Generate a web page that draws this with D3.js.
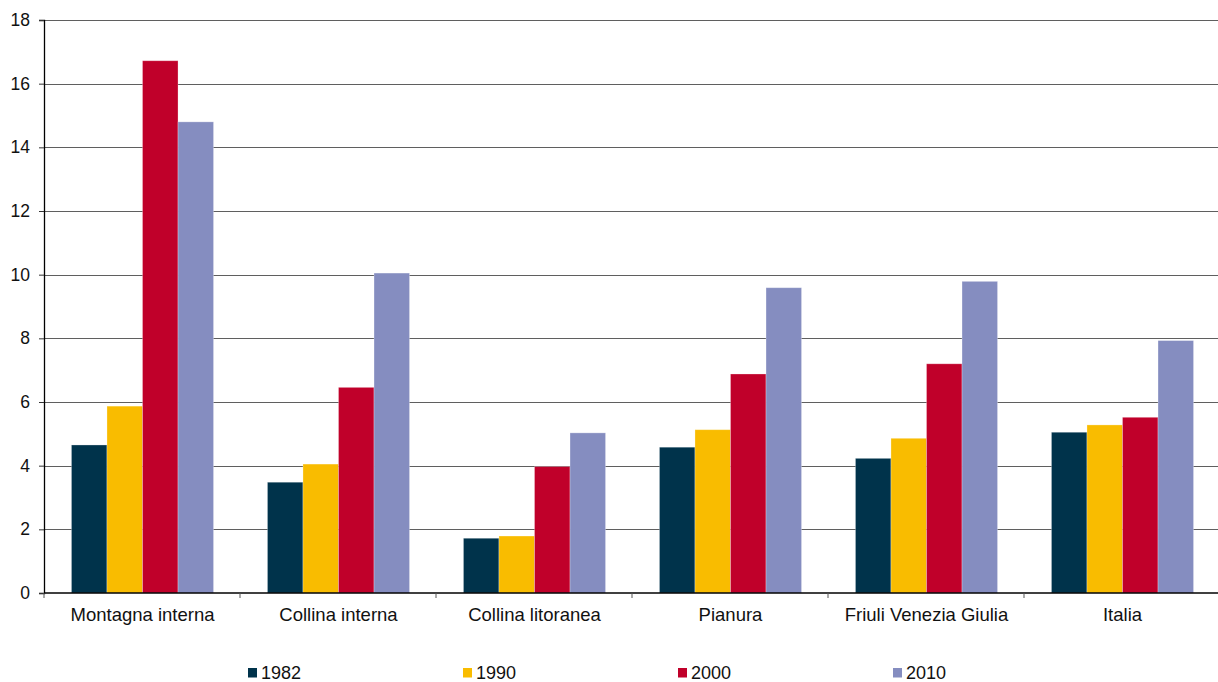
<!DOCTYPE html>
<html>
<head>
<meta charset="utf-8">
<script src="https://cdn.jsdelivr.net/npm/d3@7"></script>
<style>
	body { margin: 0; background: #fff; }
	svg { display: block; font-family: "Liberation Sans", Arial, sans-serif; }
	.grid line { stroke: #5f5f5f; stroke-width: 1; }
	.axis text { fill: #111; }
</style>
</head>
<body>
<div id="chart"></div>
<script>
// Data
const categories = ["Montagna interna", "Collina interna", "Collina litoranea", "Pianura", "Friuli Venezia Giulia", "Italia"];
const years = ["1982", "1990", "2000", "2010"];
const values1982 = [4.65, 3.48, 1.72, 4.58, 4.23, 5.05];
const values1990 = [5.87, 4.05, 1.79, 5.13, 4.86, 5.28];
const values2000 = [16.72, 6.46, 3.97, 6.88, 7.20, 5.52];
const values2010 = [14.80, 10.05, 5.03, 9.59, 9.79, 7.93];
const yTicks = [0, 2, 4, 6, 8, 10, 12, 14, 16, 18];
const colors = ["#00334b", "#f9bc00", "#c0002a", "#858dc0"];

const seriesValues = [values1982, values1990, values2000, values2010];

// Size
const width = 1218, height = 682;
const margin = { top: 20, right: -2, bottom: 89, left: 44 };

const svg = d3.select("#chart").append("svg")
	.attr("width", width).attr("height", height);

// Scales
let scaleX = d3.scaleBand(categories, [margin.left + 0.5, width - margin.right + 0.5])
	.paddingInner(0.275).paddingOuter(0.1375);
let scaleSeries = d3.scaleBand(years, [0, scaleX.bandwidth()]);
let scaleY = d3.scaleLinear([0, 18], [height - margin.bottom, margin.top]);
let color = d3.scaleOrdinal(years, colors);

// Gridlines
svg.append("g").classed("grid", true)
	.selectAll("line")
	.data(yTicks.filter(d => d > 0))
	.join("line")
	.attr("x1", margin.left).attr("x2", width - margin.right)
	.attr("y1", d => Math.round(scaleY(d)) + 0.5)
	.attr("y2", d => Math.round(scaleY(d)) + 0.5);

// Bars
let rows = categories.map((c, i) => ({ cat: c, vals: years.map((y, j) => ({ year: y, value: seriesValues[j][i] })) }));

svg.append("g")
	.selectAll("g")
	.data(rows)
	.join("g")
	.attr("transform", d => `translate(${scaleX(d.cat)},0)`)
	.selectAll("rect")
	.data(d => d.vals)
	.join("rect")
	.attr("x", d => scaleSeries(d.year))
	.attr("y", d => scaleY(d.value))
	.attr("width", scaleSeries.bandwidth())
	.attr("height", d => scaleY(0) - scaleY(d.value))
	.attr("fill", d => color(d.year))
	.attr("stroke", "#fff").attr("stroke-opacity", 0.35).attr("stroke-width", 0.8);

// Y axis
let axisY = svg.append("g").classed("axis", true)
	.attr("transform", `translate(${margin.left},0)`)
	.call(d3.axisLeft(scaleY).tickValues(yTicks).tickSize(5).tickPadding(9));
axisY.selectAll("text").style("font-size", "17.5px");
axisY.select(".domain").attr("stroke", "#000").attr("stroke-width", 1.3);
axisY.selectAll(".tick line").attr("stroke", "#333");

// X axis: boundary ticks between categories
let boundaries = d3.range(categories.length + 1).map(i => margin.left + i * scaleX.step());
let axisX = svg.append("g").classed("axis", true);
axisX.append("line")
	.attr("x1", margin.left).attr("x2", width)
	.attr("y1", scaleY(0)).attr("y2", scaleY(0))
	.attr("stroke", "#000").attr("stroke-width", 1.5);
axisX.selectAll("line.tick")
	.data(boundaries)
	.join("line").classed("tick", true)
	.attr("x1", d => d).attr("x2", d => d)
	.attr("y1", scaleY(0)).attr("y2", scaleY(0) + 5)
	.attr("stroke", "#555");
axisX.selectAll("text")
	.data(categories)
	.join("text")
	.attr("x", d => scaleX(d) + scaleX.bandwidth() / 2)
	.attr("y", scaleY(0) + 28)
	.attr("text-anchor", "middle")
	.style("font-size", "18.5px")
	.text(d => d);

// Legend
let legend = svg.append("g")
	.selectAll("g")
	.data(years)
	.join("g")
	.attr("transform", (d, i) => `translate(${248 + i * 215}, 668)`);
legend.append("rect")
	.attr("width", 9).attr("height", 9.5)
	.attr("fill", d => color(d));
legend.append("text")
	.attr("x", 13).attr("y", 11)
	.style("font-size", "18px")
	.attr("fill", "#111")
	.text(d => d);
</script>
</body>
</html>
